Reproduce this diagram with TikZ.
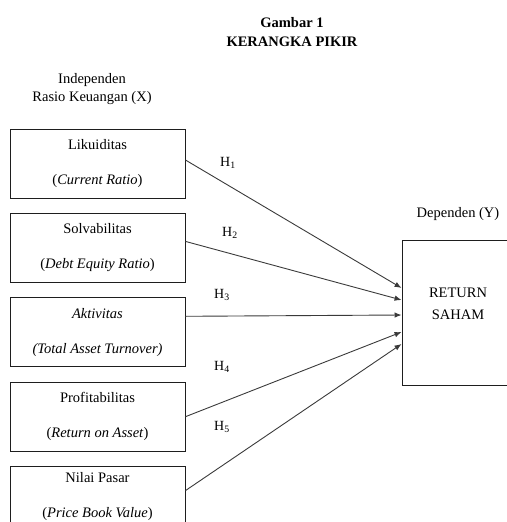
\documentclass[tikz,border=0pt]{standalone}
\usepackage{fontspec}
\setmainfont{Liberation Serif}
\usepackage{tikz}
\usetikzlibrary{arrows.meta,positioning}
\definecolor{ink}{HTML}{1E1E1E}
\definecolor{wire}{HTML}{3A3A3A}

\begin{document}
\begin{tikzpicture}[
  x=1pt,y=-1pt,
  node distance=14.5pt,
  box/.style={draw=ink,line width=0.9pt,align=center,minimum width=175pt,minimum height=69pt,inner sep=0pt,font=\fontsize{14.5}{35}\selectfont},
  outbox/.style={draw=ink,line width=0.9pt,minimum width=120pt,minimum height=145pt,inner sep=0pt},
  txt/.style={align=center,inner sep=0pt,font=\fontsize{14.5}{18}\selectfont},
  hyp/.style={inner sep=0pt,font=\fontsize{14}{16}\selectfont},
  arr/.style={-{Latex[length=7pt,width=5.5pt]},line width=0.9pt,draw=wire}
]
\useasboundingbox (0,0) rectangle (506,522);
\node[txt,font=\bfseries\fontsize{14.5}{19}\selectfont] (title) at (292,32) {Gambar 1\\KERANGKA PIKIR};
\node[txt] (indep) at (92,89) {Independen\\Rasio Keuangan (X)};
\node[box] (b1) at (97.5,163.5) {Likuiditas\\(\textit{Current Ratio})};
\node[box,below=of b1] (b2) {Solvabilitas\\(\textit{Debt Equity Ratio})};
\node[box,below=of b2] (b3) {\textit{Aktivitas}\\\textit{(Total Asset Turnover)}};
\node[box,below=of b3] (b4) {Profitabilitas\\(\textit{Return on Asset})};
\node[box,below=of b4,text depth=13pt] (b5) {Nilai Pasar\\(\textit{Price Book Value})};
\node[outbox] (ret) at (462,312.5) {};
\node[txt,font=\fontsize{14.5}{22}\selectfont] (rettxt) at (458,304) {RETURN\\SAHAM};
\node[txt] (dep) at (458,214) {Dependen (Y)};
\draw[arr] ([yshift=3.5pt]b1.east) -- ([yshift=24.5pt]ret.west);
\draw[arr] ([yshift=6.5pt]b2.east) -- ([yshift=12.5pt]ret.west);
\draw[arr] ([yshift=16pt]b3.east) -- ([yshift=-2.5pt]ret.west);
\draw[arr] (b4.east) -- ([yshift=-19.5pt]ret.west);
\draw[arr] ([yshift=10.5pt]b5.east) -- ([yshift=-31.5pt]ret.west);
\node[hyp] (h1) at (228,163) {H\textsubscript{1}};
\node[hyp] (h2) at (230,233) {H\textsubscript{2}};
\node[hyp] (h3) at (222,295) {H\textsubscript{3}};
\node[hyp] (h4) at (222,367) {H\textsubscript{4}};
\node[hyp] (h5) at (222,427) {H\textsubscript{5}};
\end{tikzpicture}
\end{document}
